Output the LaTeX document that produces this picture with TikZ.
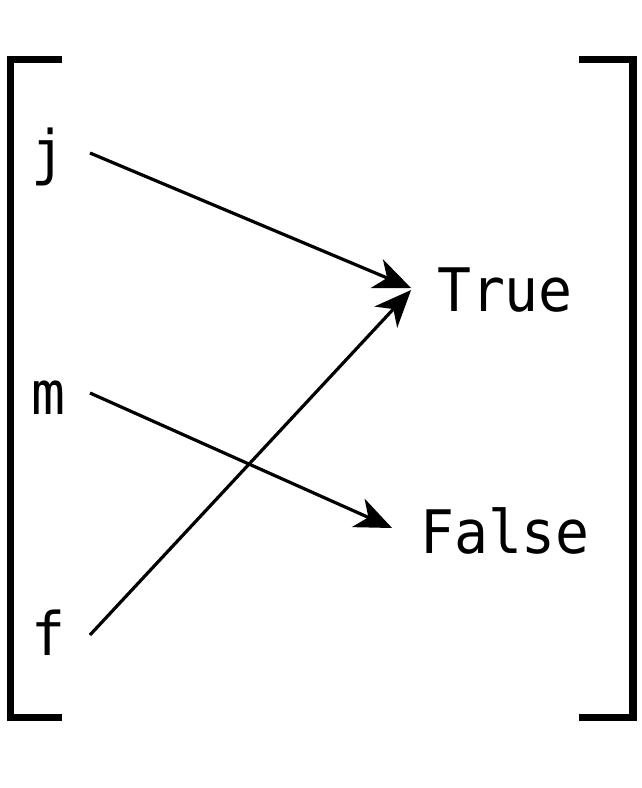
\documentclass[tikz,border=0pt]{standalone}
\usepackage{fontspec}
\newfontfamily\monofam[FakeStretch=0.94]{DejaVu Sans Mono}
\usetikzlibrary{arrows.meta}
\begin{document}
\begin{tikzpicture}[x=1pt,y=-1pt,
  lbl/.style={inner sep=0pt,outer sep=0pt,anchor=base,font=\monofam\fontsize{60}{64}\selectfont},
  arr/.style={line width=3.2pt,-{Stealth[length=37pt,width=31pt,inset=11pt]}},
  brk/.style={line width=7.5pt,miter limit=10}]
\useasboundingbox (0,0) rectangle (642,788);
\node[lbl] (j) at (48,173) {j};
\node[lbl] (m) at (48,414) {m};
\node[lbl] (f) at (48,655) {f};
\node[lbl] (T) at (505,311) {True};
\node[lbl] (F) at (505,553) {False};
\draw[brk] (62,59.5) -- (10.5,59.5) -- (10.5,717.5) -- (62,717.5);
\draw[brk] (579,59.5) -- (633,59.5) -- (633,717.5) -- (579,717.5);
\draw[arr] ([xshift=25pt,yshift=20pt]j.base east) -- ([xshift=-26pt,yshift=23pt]T.base west);
\draw[arr] ([xshift=25pt,yshift=20pt]f.base east) -- ([xshift=-26pt,yshift=21pt]T.base west);
\draw[arr] ([xshift=25pt,yshift=21pt]m.base east) -- ([xshift=-28pt,yshift=25pt]F.base west);
\end{tikzpicture}
\end{document}
